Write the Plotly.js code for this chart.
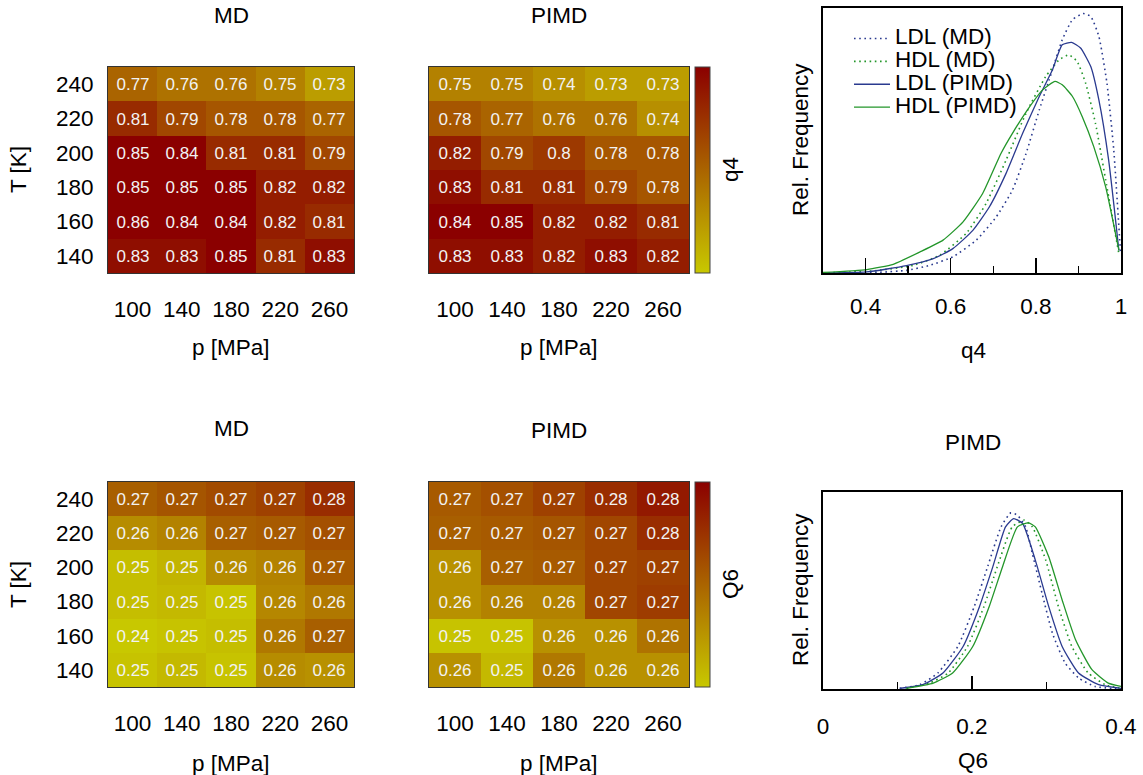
<!DOCTYPE html>
<html>
<head>
<meta charset="utf-8">
<script src="https://cdn.plot.ly/plotly-3.0.1.min.js"></script>
<style>html,body{margin:0;padding:0;background:#fff;}#chart{width:1143px;height:775px;}</style>
</head>
<body>
<div id="chart"></div>
<script>
// ---------- data ----------
const pressures = [100, 140, 180, 220, 260];          // p [MPa]
const temperatures = [140, 160, 180, 200, 220, 240];  // T [K]

// q4 (rows: T = 140 ... 240)
const q4MD = [
  [0.83, 0.83, 0.85, 0.81, 0.83],
  [0.86, 0.84, 0.84, 0.82, 0.81],
  [0.85, 0.85, 0.85, 0.82, 0.82],
  [0.85, 0.84, 0.81, 0.81, 0.79],
  [0.81, 0.79, 0.78, 0.78, 0.77],
  [0.77, 0.76, 0.76, 0.75, 0.73]
];
const q4PIMD = [
  [0.83, 0.83, 0.82, 0.83, 0.82],
  [0.84, 0.85, 0.82, 0.82, 0.81],
  [0.83, 0.81, 0.81, 0.79, 0.78],
  [0.82, 0.79, 0.80, 0.78, 0.78],
  [0.78, 0.77, 0.76, 0.76, 0.74],
  [0.75, 0.75, 0.74, 0.73, 0.73]
];
// Q6 (rows: T = 140 ... 240)
const Q6MD = [
  [0.246, 0.248, 0.246, 0.257, 0.256],
  [0.244, 0.246, 0.247, 0.261, 0.266],
  [0.247, 0.248, 0.246, 0.258, 0.261],
  [0.247, 0.249, 0.257, 0.259, 0.267],
  [0.257, 0.259, 0.266, 0.267, 0.269],
  [0.266, 0.268, 0.270, 0.272, 0.276]
];
const Q6PIMD = [
  [0.256, 0.248, 0.261, 0.256, 0.256],
  [0.246, 0.246, 0.256, 0.256, 0.262],
  [0.256, 0.259, 0.259, 0.271, 0.273],
  [0.256, 0.266, 0.267, 0.271, 0.272],
  [0.266, 0.267, 0.268, 0.271, 0.276],
  [0.267, 0.269, 0.272, 0.276, 0.280]
];

// q4 distributions (relative frequency)
const q4_LDL_MD_x   = [0.30,0.434,0.496,0.551,0.605,0.660,0.707,0.745,0.777,0.808,0.839,0.862,0.886,0.911,0.929,0.948,0.967,0.983,0.999];
const q4_LDL_MD_y   = [0.000,0.003,0.010,0.029,0.061,0.124,0.212,0.313,0.451,0.615,0.767,0.880,0.956,0.979,0.968,0.893,0.716,0.464,0.073];
const q4_HDL_MD_x   = [0.30,0.418,0.512,0.574,0.636,0.683,0.730,0.777,0.823,0.855,0.878,0.897,0.917,0.940,0.964,0.995];
const q4_HDL_MD_y   = [0.000,0.008,0.029,0.067,0.149,0.262,0.426,0.603,0.741,0.805,0.823,0.798,0.716,0.565,0.351,0.073];
const q4_LDL_PIMD_x = [0.30,0.403,0.496,0.559,0.605,0.652,0.691,0.730,0.769,0.808,0.839,0.862,0.884,0.905,0.929,0.948,0.971,0.995];
const q4_LDL_PIMD_y = [0.000,0.004,0.028,0.054,0.092,0.161,0.250,0.376,0.527,0.666,0.767,0.861,0.870,0.849,0.779,0.653,0.426,0.086];
const q4_HDL_PIMD_x = [0.30,0.403,0.465,0.527,0.582,0.629,0.675,0.718,0.745,0.780,0.816,0.845,0.862,0.886,0.909,0.936,0.964,0.995];
const q4_HDL_PIMD_y = [0.002,0.013,0.033,0.079,0.124,0.193,0.300,0.451,0.527,0.615,0.691,0.723,0.710,0.666,0.590,0.477,0.325,0.086];

// Q6 distributions (relative frequency)
const Q6_LDL_MD_x   = [0.103,0.130,0.154,0.181,0.203,0.221,0.239,0.252,0.261,0.272,0.281,0.294,0.308,0.325,0.343,0.365,0.400];
const Q6_LDL_MD_y   = [0.003,0.022,0.081,0.216,0.418,0.621,0.823,0.894,0.882,0.823,0.688,0.486,0.283,0.132,0.056,0.013,0.000];
const Q6_HDL_MD_x   = [0.112,0.143,0.168,0.194,0.216,0.234,0.254,0.270,0.281,0.299,0.316,0.334,0.356,0.379,0.400];
const Q6_HDL_MD_y   = [0.003,0.030,0.081,0.216,0.418,0.621,0.823,0.857,0.823,0.654,0.418,0.216,0.081,0.022,0.003];
const Q6_LDL_PIMD_x = [0.103,0.134,0.161,0.188,0.210,0.228,0.245,0.256,0.268,0.285,0.303,0.321,0.343,0.370,0.400];
const Q6_LDL_PIMD_y = [0.003,0.022,0.081,0.216,0.418,0.621,0.823,0.865,0.840,0.654,0.418,0.216,0.081,0.022,0.003];
const Q6_HDL_PIMD_x = [0.112,0.148,0.174,0.201,0.223,0.241,0.261,0.276,0.285,0.303,0.321,0.339,0.361,0.383,0.400];
const Q6_HDL_PIMD_y = [0.003,0.030,0.081,0.216,0.418,0.621,0.823,0.843,0.823,0.671,0.452,0.250,0.098,0.030,0.013];

// ---------- layout helpers ----------
const W = 1143, H = 775;
const FONT = 'Liberation Sans, Arial, Helvetica, sans-serif';
const BLUE = '#2a3a8f', GREEN = '#23962a';
const fmt = z => z.map(r => r.map(v => String(Math.round(v * 100) / 100)));
const dx = (a, b) => [a / W, b / W];
const dy = (top, bot) => [1 - bot / H, 1 - top / H];

function hmX(a, b, anchor) {
  return {domain: dx(a, b), anchor: anchor, range: [80, 280], tickvals: pressures,
    ticks: '', showline: true, mirror: true, linecolor: '#333', linewidth: 1,
    showgrid: false, zeroline: false, ticklabelstandoff: 16, fixedrange: true};
}
function hmY(top, bot, anchor, showLabels) {
  return {domain: dy(top, bot), anchor: anchor, range: [130, 250], tickvals: temperatures,
    ticks: '', showline: true, mirror: true, linecolor: '#333', linewidth: 1,
    showgrid: false, zeroline: false, showticklabels: showLabels, ticklabelstandoff: 9, fixedrange: true};
}
function distX(range, majorLen, standoff, anchor) {
  return {domain: dx(823, 1121), anchor: anchor, range: range, tick0: 0, dtick: 0.2,
    ticks: 'inside', ticklen: majorLen, tickwidth: 1.5, tickcolor: '#000',
    minor: {ticks: 'inside', ticklen: 7, tick0: 0, dtick: 0.1, tickwidth: 1.5, tickcolor: '#000'},
    showline: true, mirror: true, linecolor: '#000', linewidth: 2,
    showgrid: false, zeroline: false, ticklabelstandoff: standoff, fixedrange: true};
}
function distY(top, bot, anchor) {
  return {domain: dy(top, bot), anchor: anchor, range: [0, 1], showticklabels: false, ticks: '',
    showline: true, mirror: true, linecolor: '#000', linewidth: 2,
    showgrid: false, zeroline: false, fixedrange: true};
}
function heat(z, xa, ya, ca) {
  return {type: 'heatmap', x: pressures, y: temperatures, z: z, coloraxis: ca,
    text: fmt(z), texttemplate: '%{text}', textfont: {color: '#f2f2f2', size: 17, family: FONT},
    xaxis: xa, yaxis: ya, hoverinfo: 'skip', showlegend: false};
}
function line(x, y, name, color, dotted, xa, ya, show) {
  return {type: 'scatter', mode: 'lines', x: x, y: y, xaxis: xa, yaxis: ya,
    name: '<span style="font-size:22.5px">' + name + '</span>', showlegend: show,
    line: {color: color, width: dotted ? 1.6 : 1.3, dash: dotted ? '1.6px,3.6px' : 'solid', shape: 'spline', smoothing: 0.5},
    hoverinfo: 'skip'};
}
function ann(text, px, py, angle) {
  return {text: text, x: px / W, y: 1 - py / H, xref: 'paper', yref: 'paper', showarrow: false,
    xanchor: 'center', yanchor: 'middle', textangle: angle || 0, font: {size: 22.5, family: FONT, color: '#000'}};
}
const scale = [[0, '#c8c800'], [0.5, '#aa6400'], [1, '#8b0000']];
function cbar(top, bot) {
  return {x: 695 / W, xanchor: 'left', y: 1 - (top + bot) / 2 / H, yanchor: 'middle',
    len: bot - top, lenmode: 'pixels', thickness: 15, thicknessmode: 'pixels',
    xpad: 0, ypad: 0, ticks: '', showticklabels: false, outlinewidth: 1, outlinecolor: '#444'};
}

const data = [
  heat(q4MD, 'x', 'y', 'coloraxis'),
  heat(q4PIMD, 'x2', 'y2', 'coloraxis'),
  heat(Q6MD, 'x4', 'y4', 'coloraxis2'),
  heat(Q6PIMD, 'x5', 'y5', 'coloraxis2'),
  line(q4_LDL_MD_x, q4_LDL_MD_y, 'LDL (MD)', BLUE, true, 'x3', 'y3', true),
  line(q4_HDL_MD_x, q4_HDL_MD_y, 'HDL (MD)', GREEN, true, 'x3', 'y3', true),
  line(q4_LDL_PIMD_x, q4_LDL_PIMD_y, 'LDL (PIMD)', BLUE, false, 'x3', 'y3', true),
  line(q4_HDL_PIMD_x, q4_HDL_PIMD_y, 'HDL (PIMD)', GREEN, false, 'x3', 'y3', true),
  line(Q6_LDL_MD_x, Q6_LDL_MD_y, 'LDL (MD)', BLUE, true, 'x6', 'y6', false),
  line(Q6_HDL_MD_x, Q6_HDL_MD_y, 'HDL (MD)', GREEN, true, 'x6', 'y6', false),
  line(Q6_LDL_PIMD_x, Q6_LDL_PIMD_y, 'LDL (PIMD)', BLUE, false, 'x6', 'y6', false),
  line(Q6_HDL_PIMD_x, Q6_HDL_PIMD_y, 'HDL (PIMD)', GREEN, false, 'x6', 'y6', false)
];

const layout = {
  width: W, height: H, margin: {l: 0, r: 0, t: 0, b: 0},
  paper_bgcolor: '#fff', plot_bgcolor: '#fff',
  font: {family: FONT, size: 22.5, color: '#000'},
  xaxis: hmX(108, 354, 'y'),   yaxis: hmY(67, 273, 'x', true),
  xaxis2: hmX(429, 689, 'y2'), yaxis2: hmY(67, 273, 'x2', false),
  xaxis3: distX([0.3, 1.0], 15, 12, 'y3'), yaxis3: distY(8, 273, 'x3'),
  xaxis4: hmX(108, 354, 'y4'), yaxis4: hmY(482, 687, 'x4', true),
  xaxis5: hmX(429, 689, 'y5'), yaxis5: hmY(482, 687, 'x5', false),
  xaxis6: distX([0, 0.4], 13, 16, 'y6'), yaxis6: distY(492, 689, 'x6'),
  coloraxis: {cmin: 0.70, cmax: 0.84, colorscale: scale, colorbar: cbar(67, 273)},
  coloraxis2: {cmin: 0.245, cmax: 0.285, colorscale: scale, colorbar: cbar(482, 687)},
  showlegend: true,
  legend: {x: 849 / W, y: 1 - 22 / H, xanchor: 'left', yanchor: 'top', bgcolor: 'rgba(0,0,0,0)',
    borderwidth: 0, font: {size: 15.3, family: FONT}, traceorder: 'normal', itemwidth: 36},
  annotations: [
    ann('MD', 231, 16), ann('PIMD', 559, 15), ann('MD', 231, 428), ann('PIMD', 559, 430), ann('PIMD', 973, 442),
    ann('p [MPa]', 231, 348), ann('p [MPa]', 559, 348), ann('p [MPa]', 231, 763), ann('p [MPa]', 559, 763),
    ann('q4', 973, 350), ann('Q6', 973, 760),
    ann('T [K]', 18, 170, -90), ann('T [K]', 18, 585, -90),
    ann('Rel. Frequency', 800, 140, -90), ann('Rel. Frequency', 800, 590, -90),
    ann('q4', 730, 170, -90), ann('Q6', 730, 584, -90)
  ]
};

Plotly.newPlot('chart', data, layout, {staticPlot: true, displayModeBar: false});
</script>
</body>
</html>
